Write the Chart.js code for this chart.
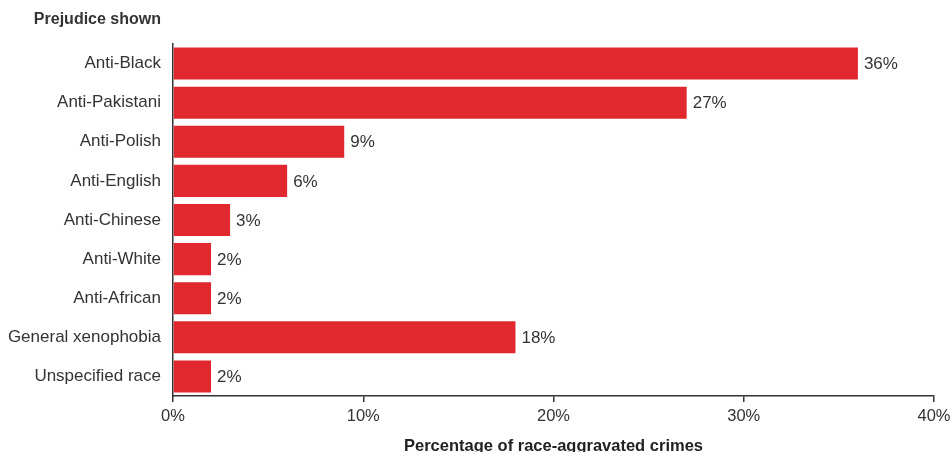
<!DOCTYPE html>
<html lang="en">
<head>
  <meta charset="UTF-8">
  <title>Prejudice shown in race-aggravated crimes</title>
  <script src="https://cdn.jsdelivr.net/npm/chart.js"></script>
  <style>
    body {
      margin: 0;
      padding: 0;
      background: #fff;
    }
    #chartContainer {
      width: 952px;
      height: 452px;
    }
  </style>
</head>
<body>
  <div id="chartContainer">
    <canvas id="prejudiceChart" width="952" height="452"></canvas>
  </div>
  <script>
    // Data
    const categories = ['Anti-Black', 'Anti-Pakistani', 'Anti-Polish', 'Anti-English', 'Anti-Chinese',
                        'Anti-White', 'Anti-African', 'General xenophobia', 'Unspecified race'];
    const shares = [36, 27, 9, 6, 3, 2, 2, 18, 2];
    const xTicks = [0, 10, 20, 30, 40];

    const textColor = '#333333';
    const barColor = '#e0282e';
    const fontFamily = '"Liberation Sans", Arial, sans-serif';

    // value labels at the end of each bar + the "Prejudice shown" heading
    const extrasPlugin = {
      id: 'extras',
      afterDatasetsDraw(chart) {
        const ctx = chart.ctx;
        const meta = chart.getDatasetMeta(0);
        ctx.save();
        ctx.fillStyle = textColor;
        ctx.font = '17px ' + fontFamily;
        ctx.textAlign = 'left';
        ctx.textBaseline = 'middle';
        meta.data.forEach((bar, i) => {
          ctx.fillText(shares[i] + '%', bar.x + 6, bar.y + 1);
        });
        ctx.font = 'bold 16px ' + fontFamily;
        ctx.textAlign = 'right';
        ctx.fillText('Prejudice shown', chart.chartArea.left - 12, 20);
        ctx.restore();
      }
    };

    const ctx = document.getElementById('prejudiceChart').getContext('2d');
    const chart = new Chart(ctx, {
      type: 'bar',
      data: {
        labels: categories,
        datasets: [{
          data: shares,
          backgroundColor: barColor,
          borderWidth: 0,
          barPercentage: 0.82,
          categoryPercentage: 1
        }]
      },
      options: {
        indexAxis: 'y',
        responsive: false,
        animation: false,
        layout: { padding: { top: 44, right: 18, left: 0, bottom: 0 } },
        plugins: {
          legend: { display: false },
          tooltip: { enabled: false }
        },
        scales: {
          x: {
            min: 0,
            max: 40,
            afterBuildTicks: axis => { axis.ticks = xTicks.map(v => ({ value: v })); },
            afterFit: axis => { axis.height = 56; axis.paddingRight = 0; axis.paddingLeft = 0; },
            border: { display: true, color: textColor, width: 1.5 },
            grid: { drawOnChartArea: false, drawTicks: true, tickLength: 6, color: textColor, lineWidth: 1.5 },
            ticks: {
              color: textColor,
              font: { size: 16.5, family: fontFamily },
              padding: 5,
              callback: v => v + '%'
            },
            title: {
              display: true,
              text: 'Percentage of race-aggravated crimes',
              color: '#222222',
              font: { size: 16.5, weight: 'bold', family: fontFamily },
              padding: { top: 4, bottom: -4 }
            }
          },
          y: {
            afterFit: axis => { axis.width = 173; },
            border: { display: true, color: textColor, width: 1.5 },
            grid: { display: true, drawOnChartArea: false, drawTicks: false },
            ticks: {
              color: textColor,
              font: { size: 17, family: fontFamily },
              padding: 12
            }
          }
        }
      },
      plugins: [extrasPlugin]
    });
  </script>
</body>
</html>
